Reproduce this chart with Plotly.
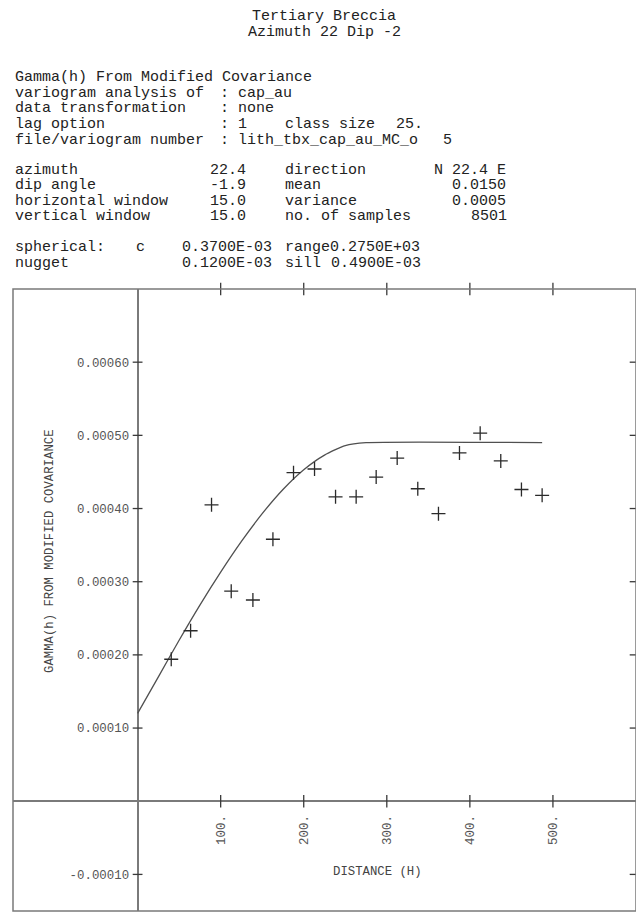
import plotly.graph_objects as go

# ---------------- data ----------------
lag_h = [40.5, 63.8, 89.0, 112.7, 138.8, 162.9, 187.7, 213.0, 238.3, 263.1,
         287.2, 312.5, 337.3, 362.2, 387.5, 412.4, 437.2, 462.1, 487.0]
gamma = [0.000194, 0.000233, 0.000405, 0.000287, 0.000275, 0.000358, 0.000449,
         0.000454, 0.000416, 0.000416, 0.000443, 0.000469, 0.000427, 0.000393,
         0.000476, 0.000503, 0.000465, 0.000426, 0.000418]
model_h = [0, 25, 50, 75, 100, 125, 150, 175, 200, 225, 250, 275, 487]
model_g = [0.000120, 0.000170, 0.000220, 0.000268, 0.000313, 0.000355, 0.000393,
           0.000426, 0.000453, 0.000473, 0.000486, 0.000490, 0.000490]
x_ticks = [100, 200, 300, 400, 500]
x_tick_text = ["100.", "200.", "300.", "400.", "500."]
y_ticks = [0.0006, 0.0005, 0.0004, 0.0003, 0.0002, 0.0001, -0.0001]
y_tick_text = ["0.00060", "0.00050", "0.00040", "0.00030", "0.00020", "0.00010", "-0.00010"]
x_range = [-150, 600]
y_range = [-0.00015, 0.0007]

title_lines = ["Tertiary Breccia", "Azimuth 22 Dip -2"]
header = [  # (y px, column, text)
    (78, 0, "Gamma(h) From Modified Covariance"),
    (93.5, 0, "variogram analysis of"), (93.5, 22, ":"), (93.5, 24, "cap_au"),
    (109, 0, "data transformation"), (109, 22, ":"), (109, 24, "none"),
    (124.5, 0, "lag option"), (124.5, 22, ":"), (124.5, 24, "1"),
    (124.5, 29, "class size"), (124.5, 41, "25."),
    (140, 0, "file/variogram number"), (140, 22, ":"), (140, 24, "lith_tbx_cap_au_MC_o"), (140, 46, "5"),
    (170, 0, "azimuth"), (170, 21, "22.4"), (170, 29, "direction"), (170, 45, "N 22.4 E"),
    (185.5, 0, "dip angle"), (185.5, 21, "-1.9"), (185.5, 29, "mean"), (185.5, 47, "0.0150"),
    (201, 0, "horizontal window"), (201, 21, "15.0"), (201, 29, "variance"), (201, 47, "0.0005"),
    (216.5, 0, "vertical window"), (216.5, 21, "15.0"), (216.5, 29, "no. of samples"), (216.5, 49, "8501"),
    (248, 0, "spherical:"), (248, 13, "c"), (248, 18, "0.3700E-03"), (248, 29, "range0.2750E+03"),
    (263.5, 0, "nugget"), (263.5, 18, "0.1200E-03"), (263.5, 29, "sill"), (263.5, 34, "0.4900E-03"),
]

# ---------------- layout geometry ----------------
# page pixel targets; the HTML body adds an 8px margin, so figure coords = page - 8
OFF = 8
W, H = 644 - OFF, 920 - 2 * OFF
L, R, T, B = 13, 636, 289, 911
FONT = "Liberation Mono"
HFS = 15.0
CW = 9.3
X0 = 13

def px(x):
    return (x - OFF) / W

def py(y):
    return 1 - (y - OFF) / H

xdom = [px(L), min(1.0, px(R))]
ydom = [py(B), py(T)]
x0_paper = xdom[0] + (0 - x_range[0]) / (x_range[1] - x_range[0]) * (xdom[1] - xdom[0])
y0_paper = ydom[0] + (0 - y_range[0]) / (y_range[1] - y_range[0]) * (ydom[1] - ydom[0])

axc = "#7a7a7a"
tickc = "#3a3a3a"

fig = go.Figure()

# model curve
fig.add_trace(go.Scatter(x=model_h, y=model_g, mode="lines",
                         line=dict(color="#505050", width=1.3, shape="spline", smoothing=0.6),
                         hoverinfo="skip", showlegend=False))
# experimental points
fig.add_trace(go.Scatter(x=lag_h, y=gamma, mode="markers",
                         marker=dict(symbol="cross-thin-open", size=10, color="#2a2a2a",
                                     line=dict(color="#2a2a2a", width=1.3)),
                         showlegend=False))

# crossing tick marks drawn through the axes scales
def tick_trace(xs, ys, sym, size=9):
    return go.Scatter(x=xs, y=ys, mode="markers", cliponaxis=False, hoverinfo="skip",
                      marker=dict(symbol=sym, size=size, color=tickc,
                                  line=dict(color=tickc, width=1.3)),
                      showlegend=False)

fig.add_trace(tick_trace(x_ticks, [0] * len(x_ticks), "line-ns-open"))
fig.add_trace(tick_trace(x_ticks, [y_range[1]] * len(x_ticks), "line-ns-open"))
fig.add_trace(tick_trace([0] * len(y_ticks), y_ticks, "line-ew-open", 7))
fig.add_trace(tick_trace([x_range[1]] * len(y_ticks), y_ticks, "line-ew-open"))

fig.update_layout(
    width=W, height=H, margin=dict(l=0, r=0, t=0, b=0),
    paper_bgcolor="white", plot_bgcolor="white",
    font=dict(family=FONT, color="#222222"),
    xaxis=dict(domain=xdom, range=x_range, anchor="free", position=y0_paper,
               showgrid=False, showline=False, zeroline=True, zerolinecolor=axc,
               zerolinewidth=1.5, tickvals=x_ticks, ticktext=x_tick_text,
               tickangle=-90, ticks="outside", ticklen=8, tickcolor="rgba(0,0,0,0)",
               tickfont=dict(family=FONT, size=12.4, color="#555555")),
    yaxis=dict(domain=ydom, range=y_range, anchor="free", position=x0_paper,
               showgrid=False, showline=False, zeroline=True, zerolinecolor=axc,
               zerolinewidth=1.5, tickvals=y_ticks, ticktext=y_tick_text,
               ticks="outside", ticklen=6, tickcolor="rgba(0,0,0,0)",
               tickfont=dict(family=FONT, size=12.4, color="#555555")),
)

# frame
fig.add_shape(type="rect", xref="x domain", yref="y domain", x0=0, x1=1, y0=0, y1=1,
              line=dict(color=axc, width=1.5), layer="above")

anns = []
for i, t in enumerate(title_lines):
    anns.append(dict(text=t, x=px(324), y=py(16 + i * 17), xref="paper", yref="paper",
                     xanchor="center", yanchor="middle", showarrow=False,
                     font=dict(family=FONT, size=HFS, color="#222222")))
for (yy, col, t) in header:
    anns.append(dict(text=t, x=px(X0 + col * CW), y=py(yy), xref="paper", yref="paper",
                     xanchor="left", yanchor="middle", showarrow=False,
                     font=dict(family=FONT, size=HFS, color="#222222")))
anns.append(dict(text="DISTANCE (H)", x=px(377), y=py(872), xref="paper", yref="paper",
                 xanchor="center", yanchor="middle", showarrow=False,
                 font=dict(family=FONT, size=12.3, color="#444444")))
anns.append(dict(text="GAMMA(h) FROM MODIFIED COVARIANCE", x=px(50), y=py(551),
                 xref="paper", yref="paper", xanchor="center", yanchor="middle",
                 textangle=-90, showarrow=False,
                 font=dict(family=FONT, size=12.3, color="#444444")))
fig.update_layout(annotations=anns)

fig.write_html("out.html")
